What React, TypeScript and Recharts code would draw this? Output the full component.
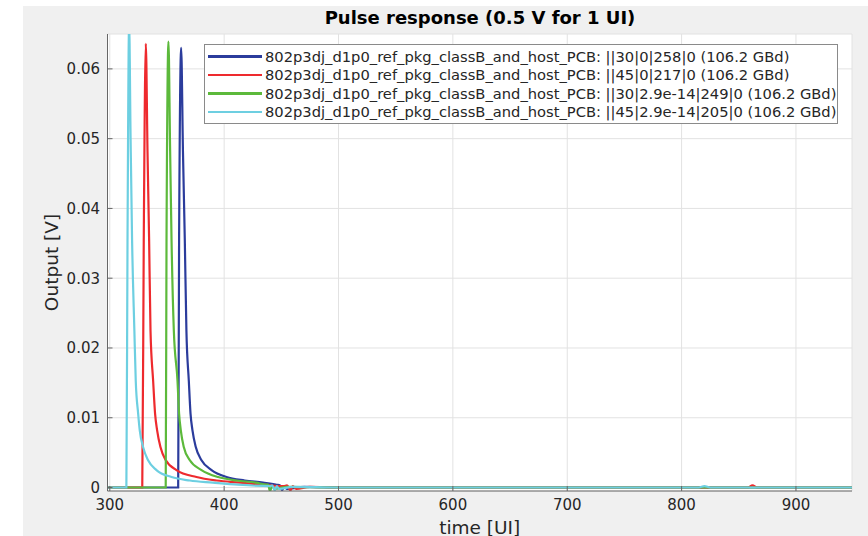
import React from "react";
import {
  LineChart,
  Line,
  XAxis,
  YAxis,
  CartesianGrid,
  Legend,
  Label,
} from "recharts";

// Pulse response curves (time in UI, output in V)
const blueTime = [298, 359.8, 360.6, 362.4, 364, 365.6, 367, 369.1, 370.6, 372.3, 375.2, 380.2, 389, 402, 418, 434, 446, 449, 450.7, 452.5, 455, 470, 500, 949];
const blueVolt = [0, 0, 0.0354, 0.063, 0.048, 0.0354, 0.0225, 0.0153, 0.0106, 0.0082, 0.0058, 0.0039, 0.0025, 0.0015, 0.001, 0.0007, 0.0004, 0.0003, -0.0004, 0.0002, -0.0002, 0.0001, 0, 0];

const redTime = [298, 328.4, 329.7, 331.5, 333, 334.4, 335.6, 337.9, 339.6, 341.4, 344.3, 349, 358.3, 375.8, 393.3, 413.7, 435, 452, 455, 458, 460, 463, 475, 500, 858, 862, 866, 949];
const redVolt = [0, 0, 0.0354, 0.0636, 0.048, 0.0354, 0.0225, 0.0153, 0.0106, 0.0082, 0.0058, 0.0039, 0.0025, 0.0015, 0.001, 0.0007, 0.0004, 0.0002, 0.0003, -0.0004, 0.0002, -0.0002, 0.0001, 0, 0, 0.0003, 0, 0];

const greenTime = [298, 348.9, 349.6, 351.3, 352.7, 354, 356, 359.2, 360.6, 362.1, 364.7, 370, 380.2, 394.7, 410.8, 428, 437, 438.5, 440, 442, 444, 455, 500, 949];
const greenVolt = [0, 0, 0.0354, 0.0639, 0.049, 0.0354, 0.0225, 0.0153, 0.0106, 0.0082, 0.0058, 0.0039, 0.0025, 0.0015, 0.001, 0.0007, 0.0004, 0.0004, -0.0005, 0.0002, -0.0002, 0.0001, 0, 0];

const cyanTime = [298, 314.5, 315.5, 316.9, 318.2, 319.5, 321.5, 322.7, 324.8, 326.2, 329.1, 333.5, 340.8, 354, 370, 390, 412, 440, 442, 444.3, 446, 448, 460, 500, 815, 820, 825, 949];
const cyanVolt = [0, 0, 0.0354, 0.0665, 0.05, 0.0354, 0.0225, 0.0153, 0.0106, 0.0082, 0.0058, 0.0039, 0.0025, 0.0015, 0.001, 0.0007, 0.0004, 0.0002, 0.0003, -0.0004, 0.0002, -0.0002, 0.0001, 0, 0, 0.0002, 0, 0];

const seriesNames = [
  "802p3dj_d1p0_ref_pkg_classB_and_host_PCB: ||30|0|258|0 (106.2 GBd)",
  "802p3dj_d1p0_ref_pkg_classB_and_host_PCB: ||45|0|217|0 (106.2 GBd)",
  "802p3dj_d1p0_ref_pkg_classB_and_host_PCB: ||30|2.9e-14|249|0 (106.2 GBd)",
  "802p3dj_d1p0_ref_pkg_classB_and_host_PCB: ||45|2.9e-14|205|0 (106.2 GBd)",
];
const seriesColors = ["#2b3c9c", "#ee2a2e", "#5cb93b", "#6dcfe1"];

const xTicks = [300, 400, 500, 600, 700, 800, 900];
const yTicks = [0, 0.01, 0.02, 0.03, 0.04, 0.05, 0.06];

const toPoints = (t: number[], v: number[]) => t.map((x, i) => ({ t: x, v: v[i] }));

const series = [
  toPoints(blueTime, blueVolt),
  toPoints(redTime, redVolt),
  toPoints(greenTime, greenVolt),
  toPoints(cyanTime, cyanVolt),
];

const FONT = "'DejaVu Sans', sans-serif";

function LegendBox() {
  return (
    <div
      style={{
        width: 632,
        height: 76,
        border: "1.5px solid #8a8a8a",
        background: "#fff",
        padding: "2px 0 0 0",
        fontFamily: FONT,
        fontSize: 14.7,
        color: "#262626",
        overflow: "visible",
      }}
    >
      {seriesNames.map((name, i) => (
        <div key={name} style={{ display: "flex", alignItems: "center", height: 18.5 }}>
          <span
            style={{
              display: "inline-block",
              flexShrink: 0,
              width: 54,
              height: 2.5,
              marginLeft: 3,
              marginRight: 3,
              background: seriesColors[i],
            }}
          />
          <span style={{ whiteSpace: "nowrap", flexShrink: 0 }}>{name}</span>
        </div>
      ))}
    </div>
  );
}

export default function App() {
  return (
    <div
      style={{
        position: "absolute",
        left: 0,
        top: 0,
        width: 868,
        height: 536,
        background: "#fff",
        overflow: "hidden",
        fontFamily: FONT,
      }}
    >
      <div
        style={{
          position: "absolute",
          left: 23,
          top: 6,
          width: 845,
          height: 530,
          background: "#f0f0f0",
        }}
      />
      <div
        style={{
          position: "absolute",
          left: 0,
          top: 7,
          width: 960,
          textAlign: "center",
          fontWeight: "bold",
          fontSize: 18,
          color: "#000",
        }}
      >
        Pulse response (0.5 V for 1 UI)
      </div>
      <div style={{ position: "absolute", left: 0, top: 0 }}>
        <LineChart
          width={868}
          height={536}
          margin={{ top: 34, right: 16, bottom: 15, left: 47.5 }}
        >
          <CartesianGrid stroke="#e2e2e2" strokeWidth={1} fill="#ffffff" />
          <XAxis
            type="number"
            dataKey="t"
            domain={[298, 949]}
            ticks={xTicks}
            allowDataOverflow
            height={30}
            tickSize={-5}
            tickMargin={13}
            stroke="#666"
            tick={{ fill: "#262626", fontSize: 15, fontFamily: FONT }}
          >
            <Label
              content={({ viewBox }: any) => (
                <text
                  x={viewBox.x + viewBox.width / 2}
                  y={527}
                  textAnchor="middle"
                  dominantBaseline="central"
                  fontSize={18.5}
                  fontFamily={FONT}
                  fill="#262626"
                >
                  time [UI]
                </text>
              )}
            />
          </XAxis>
          <YAxis
            type="number"
            domain={[-0.0005, 0.065]}
            ticks={yTicks}
            allowDataOverflow
            width={60}
            tickSize={-5}
            tickMargin={12.5}
            stroke="#666"
            tickFormatter={(v: number) => (v === 0 ? "0" : v.toFixed(2))}
            tick={{ fill: "#262626", fontSize: 15, fontFamily: FONT }}
          >
            <Label
              content={({ viewBox }: any) => {
                const cy = viewBox.y + viewBox.height / 2;
                return (
                  <text
                    x={51}
                    y={cy}
                    transform={`rotate(-90 51 ${cy})`}
                    textAnchor="middle"
                    dominantBaseline="central"
                    fontSize={18.5}
                    fontFamily={FONT}
                    fill="#262626"
                  >
                    Output [V]
                  </text>
                );
              }}
            />
          </YAxis>
          <Legend
            layout="vertical"
            align="center"
            verticalAlign="middle"
            wrapperStyle={{ left: 204, top: 44, width: "auto" }}
            content={() => <LegendBox />}
          />
          {series.map((data, i) => (
            <Line
              key={seriesNames[i]}
              data={data}
              dataKey="v"
              name={seriesNames[i]}
              type="monotone"
              stroke={seriesColors[i]}
              strokeWidth={2.2}
              dot={false}
              activeDot={false}
              isAnimationActive={false}
            />
          ))}
        </LineChart>
      </div>
    </div>
  );
}
